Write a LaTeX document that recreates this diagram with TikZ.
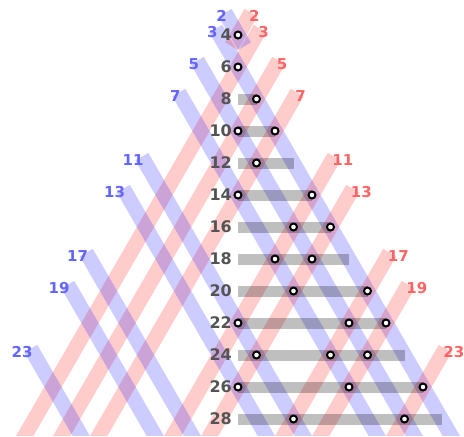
\documentclass[tikz,border=0pt]{standalone}
\usepackage{fontspec}
\setmainfont{DejaVu Sans}
\definecolor{bluetxt}{RGB}{100,100,255}
\definecolor{redtxt}{RGB}{255,100,100}
\begin{document}
\begin{tikzpicture}[x=18.5pt,y=-16pt,
  band/.style={line width=15pt,opacity=.2},
  bar/.style={line width=11pt,black,opacity=.25},
  dot/.style={circle,draw,fill=white,line width=2pt,inner sep=0,minimum size=7pt},
  num/.style={font=\bfseries\fontsize{16}{16}\selectfont,text=black!67,inner sep=0,anchor=east},
  plab/.style={font=\bfseries\fontsize{15}{15}\selectfont,inner sep=0}]
\useasboundingbox (-12.865,1.8125) rectangle (12.216,29.125);
% prime bands
\begin{scope}
\clip (-13,0) rectangle (13,29);
\foreach \p in {3,5,7,11,13,17,19,23}{
  \draw[band,red] ({\p/2-0.3},\p+0.6) -- ({\p-14.75},29.5);
  \draw[band,blue] ({0.3-\p/2},\p+0.6) -- ({14.75-\p},29.5);
}
\draw[band,red] (0.7,2.6) -- (-0.35,4.7);
\draw[band,blue] (-0.7,2.6) -- (0.35,4.7);
\end{scope}
% bars
\foreach \e in {8,10,...,28}
  \draw[bar] (0,\e) -- ({\e/2-3},\e);
% even numbers
\foreach \e in {4,6,...,28}
  \node[num] (n\e) at ([xshift=-6pt]0,\e) {\e};
% partitions
\foreach \p/\q in {2/2,3/3,3/5,5/5,3/7,5/7,7/7,3/11,5/11,3/13,7/11,5/13,7/13,3/17,
    11/11,5/17,3/19,11/13,7/17,5/19,13/13,7/19,3/23,11/17,5/23}
  \node[dot] (d\p-\q) at ({(\q-\p)/2},\p+\q) {};
% prime labels
\foreach \p [evaluate=\p as \k using \p/2-0.3] in {2,3,5,7,11,13,17,19,23}{
  \node[plab,anchor=east,text=bluetxt,xshift=2pt,yshift=-3.5pt] (b\p) at (-\k,\p+0.6) {\p};
  \node[plab,anchor=west,text=redtxt,xshift=-2pt,yshift=-3.5pt] (r\p) at (\k,\p+0.6) {\p};
}
\end{tikzpicture}
\end{document}
